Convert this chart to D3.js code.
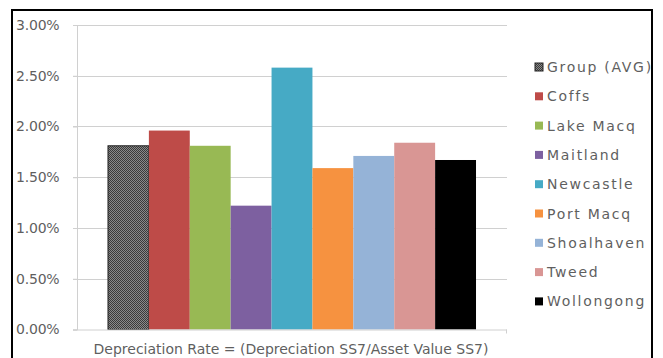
<!DOCTYPE html>
<html><head><meta charset="utf-8">
<script src="https://cdn.jsdelivr.net/npm/d3@7"></script>
<style>
body{margin:0;background:#fff;}
svg text{font-family:"DejaVu Sans",sans-serif;fill:#5f5f5f;}
</style></head>
<body><svg id="c" width="663" height="358"></svg>
<script>
const series = ["Group (AVG)","Coffs","Lake Macq","Maitland","Newcastle","Port Macq","Shoalhaven","Tweed","Wollongong"];
const values = [0.0181,0.0196,0.0181,0.0122,0.0258,0.0159,0.0171,0.0184,0.0167];
const colors = ["url(#chk)","#be4b48","#98b954","#7d60a0","#46aac5","#f69240","#95b3d7","#d99694","#000000"];
const yTicks = [0,0.005,0.01,0.015,0.02,0.025,0.03];
const xTitle = "Depreciation Rate = (Depreciation SS7/Asset Value SS7)";

const svg = d3.select("#c");
const defs = svg.append("defs");
const p = defs.append("pattern").attr("id","chk").attr("patternUnits","userSpaceOnUse").attr("width",2).attr("height",2);
p.append("rect").attr("width",2).attr("height",2).attr("fill","#8a8a8a");
p.append("rect").attr("width",1).attr("height",1).attr("fill","#3a3a3a");
p.append("rect").attr("x",1).attr("y",1).attr("width",1).attr("height",1).attr("fill","#3a3a3a");
defs.append("clipPath").attr("id","frame").append("rect").attr("x",13).attr("y",11).attr("width",638).attr("height",360);

svg.append("rect").attr("x",12).attr("y",10).attr("width",640).attr("height",360)
  .attr("fill","#fff").attr("stroke","#000").attr("stroke-width",2);

const L=77,R=507,T=25,B=329.5;
const y = d3.scaleLinear().domain([0,0.03]).range([B,T]);
const x0 = d3.scaleBand().domain([""]).range([L,R]).paddingOuter(0.0842).paddingInner(0);
const x1 = d3.scaleBand().domain(series).range([0,x0.bandwidth()]);

// gridlines
svg.append("g").selectAll("line").data(yTicks.filter(d=>d>0)).join("line")
  .attr("x1",L-4).attr("x2",R).attr("y1",d=>Math.round(y(d))+0.5).attr("y2",d=>Math.round(y(d))+0.5)
  .attr("stroke","#d0d0d0").attr("stroke-width",1);

// y axis
const ya = svg.append("g").attr("transform",`translate(${L},0)`)
  .call(d3.axisLeft(y).tickValues(yTicks).tickFormat(d3.format(".2%")).tickSize(4).tickPadding(10));
ya.select(".domain").attr("stroke","#d0d0d0");
ya.selectAll(".tick line").attr("stroke","#d0d0d0");
ya.selectAll(".tick text").attr("font-size",14).attr("text-anchor","start").attr("x",-61).attr("letter-spacing",-0.2);

// bars
svg.append("g").selectAll("rect").data(series).join("rect")
  .attr("x",d=>x0("")+x1(d)).attr("width",x1.bandwidth())
  .attr("y",(d,i)=>y(values[i])).attr("height",(d,i)=>B-y(values[i]))
  .attr("fill",(d,i)=>colors[i])
  .attr("stroke",(d,i)=>i===0?"#222":"none").attr("stroke-width",1);

// x baseline
svg.append("line").attr("x1",L-4).attr("x2",R).attr("y1",B+0.5).attr("y2",B+0.5).attr("stroke","#d0d0d0");
svg.append("line").attr("x1",R-0.5).attr("x2",R-0.5).attr("y1",B).attr("y2",B+4).attr("stroke","#d0d0d0");

svg.append("text").attr("x",(L+R)/2-1).attr("y",354).attr("text-anchor","middle")
  .attr("font-size",14).attr("letter-spacing",0).text(xTitle);

// legend
const lg = svg.append("g").attr("clip-path","url(#frame)").selectAll("g").data(series).join("g")
  .attr("transform",(d,i)=>`translate(535,${67+i*29.3})`);
lg.append("rect").attr("x",0).attr("y",-4).attr("width",8).attr("height",8)
  .attr("fill",(d,i)=>colors[i]).attr("stroke",(d,i)=>i===0?"#222":"none");
lg.append("text").attr("x",12).attr("y",5).attr("font-size",14).attr("letter-spacing",1.7).text(d=>d);
</script></body></html>
